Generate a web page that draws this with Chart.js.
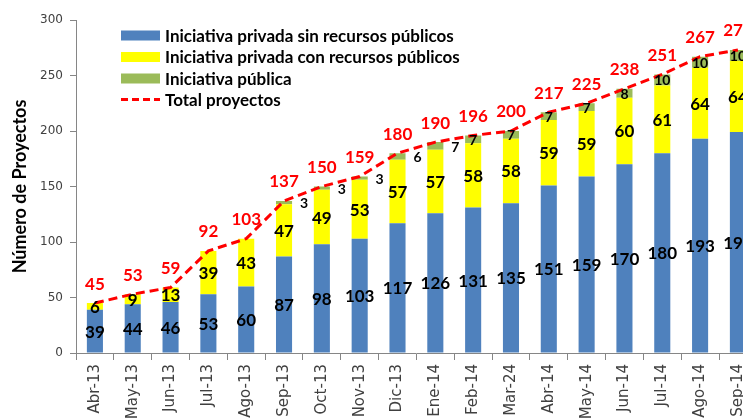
<!DOCTYPE html>
<html>
<head>
<meta charset="utf-8">
<script src="https://cdn.jsdelivr.net/npm/chart.js@4/dist/chart.umd.min.js"></script>
<style>
html,body{margin:0;padding:0;overflow:hidden;background:#fff;width:743px;height:419px;}
#wrap{position:absolute;left:0;top:0;width:760px;height:430px;}
</style>
</head>
<body>
<div id="wrap"><canvas id="c"></canvas></div>
<script>
const categories = ['Abr-13','May-13','Jun-13','Jul-13','Ago-13','Sep-13','Oct-13','Nov-13','Dic-13','Ene-14','Feb-14','Mar-24','Abr-14','May-14','Jun-14','Jul-14','Ago-14','Sep-14'];
const privadaSinRecursos = [39,44,46,53,60,87,98,103,117,126,131,135,151,159,170,180,193,199];
const privadaConRecursos = [6,9,13,39,43,47,49,53,57,57,58,58,59,59,60,61,64,64];
const iniciativaPublica = [0,0,0,0,0,3,3,3,6,7,7,7,7,7,8,10,10,10];
const totalProyectos = [45,53,59,92,103,137,150,159,180,190,196,200,217,225,238,251,267,273];
const yTicks = [0,50,100,150,200,250,300];
const seriesNames = ['Iniciativa privada sin recursos públicos','Iniciativa privada con recursos públicos','Iniciativa pública','Total proyectos'];
const axisTitle = 'Número de Proyectos';
// categories whose "Iniciativa pública" label sits beside the bar
const outsideLabelIdx = [5,6,7,8,9];

const BLUE='#4F81BD', YELLOW='#FFFF00', GREEN='#9BBB59', RED='#FF0000';
const AXIS='#868686', TICKTXT='#404040';
const BOLD='"Lato", "Liberation Sans", sans-serif';

const labelPlugin = {
  id:'labels',
  afterDatasetsDraw(chart){
    const ctx = chart.ctx;
    ctx.save();
    ctx.textAlign='center';
    ctx.textBaseline='middle';
    for (let i=0;i<3;i++){
      const meta = chart.getDatasetMeta(i);
      const data = chart.data.datasets[i].data;
      meta.data.forEach((bar,j)=>{
        const v = data[j];
        if (!v) return;
        const p = bar.getProps(['x','y','base'], true);
        let x = p.x, y = (p.y + p.base)/2;
        if (i===2 && outsideLabelIdx.includes(j)) x += 20;
        ctx.fillStyle = '#000';
        ctx.font = (i===2 ? 'bold 14px ' : 'bold 17px ') + BOLD;
        ctx.fillText(String(v), x, y+1);
      });
    }
    const lm = chart.getDatasetMeta(3);
    const ld = chart.data.datasets[3].data;
    ctx.fillStyle = RED;
    ctx.font = 'bold 17px ' + BOLD;
    lm.data.forEach((pt,j)=>{
      const p = pt.getProps(['x','y'], true);
      ctx.fillText(String(ld[j]), p.x, p.y - 19);
    });
    ctx.restore();
  }
};

const legendPlugin = {
  id:'customLegend',
  afterDraw(chart){
    const ctx = chart.ctx;
    ctx.save();
    const x0 = 121, sw = 39, tx = 165;
    const rows = [35.5, 57, 78.5, 99.5];
    ctx.font = 'bold 17px ' + BOLD;
    ctx.textBaseline = 'middle';
    ctx.textAlign = 'left';
    chart.data.datasets.forEach((ds,i)=>{
      const y = rows[i];
      if (i<3){
        ctx.fillStyle = ds.backgroundColor;
        ctx.fillRect(x0, y-5, sw, 10);
      } else {
        ctx.strokeStyle = ds.borderColor;
        ctx.lineWidth = 3;
        ctx.setLineDash([7,4]);
        ctx.beginPath(); ctx.moveTo(x0, y); ctx.lineTo(x0+sw, y); ctx.stroke();
        ctx.setLineDash([]);
      }
      ctx.fillStyle = '#000';
      ctx.fillText(ds.label, tx, y+1);
    });
    ctx.restore();
  }
};

new Chart(document.getElementById('c'), {
  data:{
    labels: categories,
    datasets:[
      {type:'bar', label:seriesNames[0], data:privadaSinRecursos, backgroundColor:BLUE, stack:'s', order:2, barPercentage:0.85, categoryPercentage:0.5},
      {type:'bar', label:seriesNames[1], data:privadaConRecursos, backgroundColor:YELLOW, stack:'s', order:2, barPercentage:0.85, categoryPercentage:0.5},
      {type:'bar', label:seriesNames[2], data:iniciativaPublica, backgroundColor:GREEN, stack:'s', order:2, barPercentage:0.85, categoryPercentage:0.5},
      {type:'line', label:seriesNames[3], data:totalProyectos, borderColor:RED, backgroundColor:RED, borderWidth:3, borderDash:[9,5], pointRadius:0, fill:false, tension:0, stack:'t', order:1}
    ]
  },
  options:{
    responsive:true, maintainAspectRatio:false, animation:false,
    layout:{padding:{top:20,right:3,left:0,bottom:0}},
    plugins:{legend:{display:false}, tooltip:{enabled:false}},
    scales:{
      x:{
        stacked:true, offset:true,
        grid:{display:true, offset:true, drawOnChartArea:false, color:AXIS, tickLength:7},
        border:{color:AXIS},
        ticks:{maxRotation:90, minRotation:90, autoSkip:false, color:TICKTXT, padding:4, font:{family:'"DejaVu Sans", sans-serif', size:15}},
        afterFit(s){ s.height = 430 - 353; }
      },
      y:{
        stacked:true, min:0, max:300,
        afterBuildTicks(s){ s.ticks = yTicks.map(v=>({value:v})); },
        grid:{display:true, drawOnChartArea:false, color:AXIS, tickLength:6},
        border:{color:AXIS},
        ticks:{color:TICKTXT, padding:7, font:{family:'"DejaVu Sans", sans-serif', size:12}},
        title:{display:true, text:axisTitle, color:'#000', font:{family:BOLD, size:18, weight:'bold'}, padding:{top:9,bottom:0}},
        afterFit(s){ s.width = 76; }
      }
    }
  },
  plugins:[labelPlugin, legendPlugin]
});
</script>
</body>
</html>
